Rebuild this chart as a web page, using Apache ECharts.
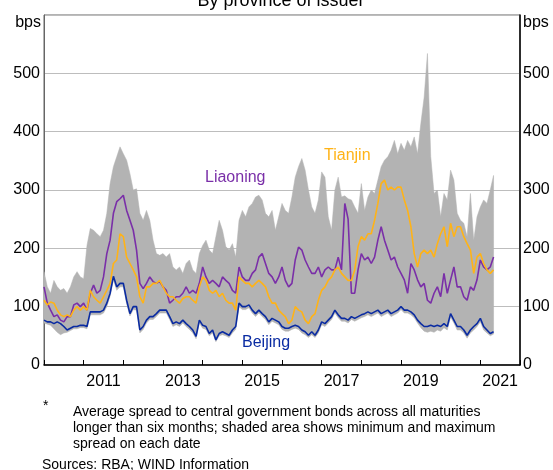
<!DOCTYPE html>
<html><head><meta charset="utf-8">
<script src="https://cdn.jsdelivr.net/npm/echarts@6/dist/echarts.min.js"></script>
<style>html,body{margin:0;padding:0;background:#fff}#c{width:553px;height:470px}</style>
</head><body><div id="c"></div>
<script>
const months = [
"2010-01","2010-02","2010-03","2010-04","2010-05","2010-06","2010-07","2010-08","2010-09","2010-10","2010-11","2010-12",
"2011-01","2011-02","2011-03","2011-04","2011-05","2011-06","2011-07","2011-08","2011-09","2011-10","2011-11","2011-12",
"2012-01","2012-02","2012-03","2012-04","2012-05","2012-06","2012-07","2012-08","2012-09","2012-10","2012-11","2012-12",
"2013-01","2013-02","2013-03","2013-04","2013-05","2013-06","2013-07","2013-08","2013-09","2013-10","2013-11","2013-12",
"2014-01","2014-02","2014-03","2014-04","2014-05","2014-06","2014-07","2014-08","2014-09","2014-10","2014-11","2014-12",
"2015-01","2015-02","2015-03","2015-04","2015-05","2015-06","2015-07","2015-08","2015-09","2015-10","2015-11","2015-12",
"2016-01","2016-02","2016-03","2016-04","2016-05","2016-06","2016-07","2016-08","2016-09","2016-10","2016-11","2016-12",
"2017-01","2017-02","2017-03","2017-04","2017-05","2017-06","2017-07","2017-08","2017-09","2017-10","2017-11","2017-12",
"2018-01","2018-02","2018-03","2018-04","2018-05","2018-06","2018-07","2018-08","2018-09","2018-10","2018-11","2018-12",
"2019-01","2019-02","2019-03","2019-04","2019-05","2019-06","2019-07","2019-08","2019-09","2019-10","2019-11","2019-12",
"2020-01","2020-02","2020-03","2020-04","2020-05","2020-06","2020-07","2020-08","2020-09","2020-10","2020-11","2020-12",
"2021-01","2021-02","2021-03","2021-04","2021-05"];

const maxSpread = [
160,134,123,145,134,128,131,123,134,151,160,151,
148,205,234,231,225,220,231,260,311,340,357,374,
362,351,328,300,302,260,248,265,248,214,191,188,
191,185,191,168,163,168,157,174,180,163,157,191,
205,214,197,191,220,248,231,203,197,208,185,248,
265,254,271,277,288,291,283,260,254,265,231,254,
277,265,260,288,322,340,354,334,300,271,260,283,
331,322,254,231,300,322,288,290,285,283,271,260,
311,265,288,300,294,317,340,351,357,368,385,362,
380,368,385,374,391,362,414,459,534,357,294,300,
254,294,283,334,317,260,248,243,220,294,214,254,
271,283,277,300,325];

const minSpread = [
72,70,68,62,56,52,55,56,59,62,62,64,
64,62,86,86,86,86,89,100,118,146,128,134,
134,105,84,95,94,55,61,72,78,78,83,89,
89,89,78,66,69,66,72,66,61,55,45,72,
63,61,50,55,40,50,52,50,47,55,61,100,
95,95,98,89,83,89,83,78,69,75,72,69,
61,58,58,61,63,61,55,52,47,52,47,55,
69,66,72,78,89,81,75,75,72,78,75,78,
81,83,86,83,86,89,83,86,89,83,86,89,
95,89,89,86,81,72,64,58,56,58,56,60,
58,64,60,82,72,60,60,55,46,55,60,66,
74,60,55,50,53];

const liaoning = [
134,106,94,83,86,77,74,83,83,103,106,100,
106,94,123,137,123,128,151,191,214,260,280,285,
291,265,248,231,197,140,131,140,151,143,140,143,
134,128,106,111,117,117,123,134,123,128,123,140,
168,151,140,145,140,134,151,145,140,128,123,168,
151,145,145,157,163,185,191,174,157,151,140,151,
168,145,134,140,180,202,197,180,168,157,157,168,
151,163,168,163,163,185,163,277,250,123,123,163,
191,180,185,174,185,214,237,214,197,180,185,168,
157,146,123,174,163,146,134,140,111,106,123,134,
117,157,123,146,168,134,134,117,111,134,128,146,
180,168,163,168,185];

const tianjin = [
111,103,108,106,94,86,83,86,83,94,100,94,
100,94,128,117,111,106,117,128,140,174,180,225,
220,185,174,163,151,117,106,134,134,140,140,145,
134,123,117,117,111,106,114,117,117,111,106,134,
151,145,128,123,128,117,123,111,106,106,94,151,
145,140,140,134,140,145,140,134,117,106,106,94,
88,83,71,77,100,94,91,77,71,83,88,111,
128,134,145,151,163,168,157,151,145,145,163,203,
220,214,225,225,248,277,311,317,300,305,300,305,
305,283,265,237,191,168,191,197,191,197,185,208,
225,237,203,243,220,237,237,220,208,197,157,185,
191,174,163,157,163];

const beijing = [
77,74,74,71,74,71,66,60,63,66,66,68,
68,66,91,91,91,91,94,106,123,152,134,140,
140,111,88,100,100,60,66,77,83,83,88,94,
94,94,83,71,74,71,77,71,66,60,49,77,
68,66,54,60,43,54,57,54,51,60,66,106,
100,100,103,94,88,94,88,83,74,80,77,74,
66,63,63,66,68,66,60,57,51,57,51,60,
74,71,77,83,94,86,80,80,77,83,80,83,
86,88,91,88,91,94,88,91,94,88,91,94,
100,94,94,91,86,77,71,66,66,68,66,68,
66,71,66,88,77,66,66,60,51,60,66,71,
80,66,60,54,57];

const yTickValues = [0,100,200,300,400,500];
const yearLabels = ['2011','2013','2015','2017','2019','2021'];
const seriesNames = ['Liaoning','Tianjin','Beijing'];
const titleText = 'By province of issuer';
const unitText = 'bps';
const footnoteLines = [
  'Average spread to central government bonds across all maturities',
  'longer than six months; shaded area shows minimum and maximum',
  'spread on each date'
];
const sourceText = 'Sources: RBA; WIND Information';

const FONT = '"Liberation Sans", Arial, Helvetica, sans-serif';
const COL = {liaoning:'#7A2FA8', tianjin:'#FFB317', beijing:'#0A2BA2', band:'#B3B3B3'};

function toYear(s){ const p = s.split('-'); return (+p[0]) + (+p[1]-1)/12; }
const t = months.map(toYear);
const pairs = arr => t.map((x,i)=>[x, arr[i]]);
const bandData = t.map((x,i)=>[x, minSpread[i], maxSpread[i]]);

const chart = echarts.init(document.getElementById('c'), null, {renderer:'canvas'});

const yLabelFmt = v => (yTickValues.indexOf(v) >= 0 ? String(v) : '');

const option = {
  animation: false,
  backgroundColor: '#ffffff',
  grid: { left: 44, right: 33, top: 15, bottom: 105, show: true, borderColor: '#666', borderWidth: 1, backgroundColor: 'transparent' },
  xAxis: [
    { type:'value', min:2010, max:2022, interval:1, position:'bottom', gridIndex:0,
      axisLine:{show:true, onZero:false, lineStyle:{color:'#000', width:1.5}},
      axisTick:{show:true, inside:true, length:5, lineStyle:{color:'#000', width:1}},
      axisLabel:{show:false}, splitLine:{show:false} },
    { type:'value', min:2010, max:2022, interval:0.5, position:'bottom', gridIndex:0,
      axisLine:{show:false}, axisTick:{show:false}, splitLine:{show:false},
      axisLabel:{show:true, margin:9, color:'#000', fontSize:16, fontFamily:FONT, hideOverlap:false,
        showMinLabel:true, showMaxLabel:true,
        formatter: v => { const y = Math.round(v - 0.5); return (Math.abs(v - 0.5 - y) < 1e-6 && yearLabels.indexOf(String(y)) >= 0) ? String(y) : ''; } } }
  ],
  yAxis: [
    { type:'value', min:0, max:600, interval:100, position:'left',
      axisLine:{show:true, lineStyle:{color:'#666', width:1}}, axisTick:{show:false},
      splitLine:{show:true, lineStyle:{color:'#BDBDBD', width:1}},
      axisLabel:{margin:4, color:'#000', fontSize:16, fontFamily:FONT, formatter: yLabelFmt} },
    { type:'value', min:0, max:600, interval:100, position:'right',
      axisLine:{show:true, lineStyle:{color:'#000', width:1.5}}, axisTick:{show:false},
      splitLine:{show:false},
      axisLabel:{margin:3, color:'#000', fontSize:16, fontFamily:FONT, formatter: yLabelFmt} }
  ],
  series: [
    { type:'custom', name:'range', xAxisIndex:0, yAxisIndex:0, data: bandData, encode:{x:0, y:[1,2]}, silent:true, z:1,
      renderItem: function(params, api){
        if (params.dataIndex !== 0) return null;
        const pts = [];
        for (let i = 0; i < bandData.length; i++) pts.push(api.coord([bandData[i][0], bandData[i][2]]));
        for (let i = bandData.length - 1; i >= 0; i--) pts.push(api.coord([bandData[i][0], bandData[i][1]]));
        return { type:'polygon', shape:{points: pts}, style:{fill: COL.band, stroke: COL.band, lineWidth: 0.5} };
      } },
    { type:'line', name:seriesNames[0], data: pairs(liaoning), showSymbol:false, symbol:'none', z:3,
      lineStyle:{color:COL.liaoning, width:1.6}, itemStyle:{color:COL.liaoning} },
    { type:'line', name:seriesNames[1], data: pairs(tianjin), showSymbol:false, symbol:'none', z:4,
      lineStyle:{color:COL.tianjin, width:1.6}, itemStyle:{color:COL.tianjin} },
    { type:'line', name:seriesNames[2], data: pairs(beijing), showSymbol:false, symbol:'none', z:5,
      lineStyle:{color:COL.beijing, width:1.6}, itemStyle:{color:COL.beijing} }
  ],
  graphic: [
    { type:'text', x:281, y:1, style:{text:titleText, fill:'#000', font:'18px '+FONT, align:'center', verticalAlign:'middle'} },
    { type:'text', x:41, y:23, style:{text:unitText, fill:'#000', font:'16px '+FONT, align:'right', verticalAlign:'middle'} },
    { type:'text', x:523, y:23, style:{text:unitText, fill:'#000', font:'16px '+FONT, align:'left', verticalAlign:'middle'} },
    { type:'text', x:205, y:178, z:10, style:{text:seriesNames[0], fill:COL.liaoning, font:'16px '+FONT, align:'left', verticalAlign:'middle'} },
    { type:'text', x:324, y:156, z:10, style:{text:seriesNames[1], fill:COL.tianjin, font:'16px '+FONT, align:'left', verticalAlign:'middle'} },
    { type:'text', x:242, y:343, z:10, style:{text:seriesNames[2], fill:COL.beijing, font:'16px '+FONT, align:'left', verticalAlign:'middle'} },
    { type:'text', x:43, y:406, style:{text:'*', fill:'#000', font:'14px '+FONT, align:'left', verticalAlign:'middle'} },
    { type:'text', x:73, y:412, style:{text:footnoteLines[0], fill:'#000', font:'14px '+FONT, align:'left', verticalAlign:'middle'} },
    { type:'text', x:73, y:428, style:{text:footnoteLines[1], fill:'#000', font:'14px '+FONT, align:'left', verticalAlign:'middle'} },
    { type:'text', x:73, y:444, style:{text:footnoteLines[2], fill:'#000', font:'14px '+FONT, align:'left', verticalAlign:'middle'} },
    { type:'text', x:42, y:465, style:{text:sourceText, fill:'#000', font:'14px '+FONT, align:'left', verticalAlign:'middle'} }
  ]
};
chart.setOption(option);
</script>
</body></html>
